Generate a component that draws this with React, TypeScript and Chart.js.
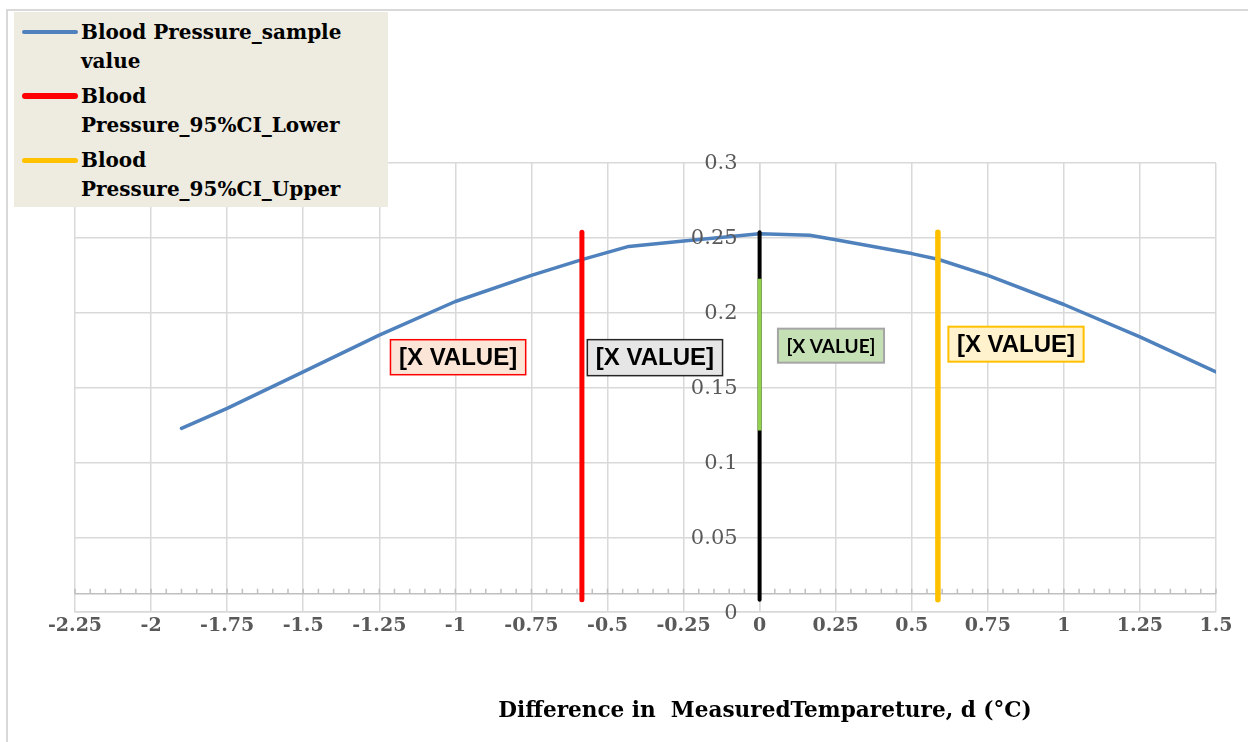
import React, { useEffect, useRef } from "react";
import { Chart, registerables } from "chart.js";

Chart.register(...registerables);

// ---------- data ----------
const SERIES_NAMES = [
  "Blood Pressure_sample value",
  "Blood Pressure_95%CI_Lower",
  "Blood Pressure_95%CI_Upper",
];

const SAMPLE_X = [-1.9, -1.75, -1.5, -1.25, -1.0, -0.75, -0.584, -0.43, -0.25, 0, 0.165, 0.25, 0.5, 0.586, 0.75, 1.0, 1.25, 1.5];
const SAMPLE_Y = [0.1228, 0.1361, 0.1605, 0.185, 0.2075, 0.225, 0.2355, 0.2443, 0.2479, 0.2527, 0.2517, 0.2488, 0.2395, 0.2357, 0.225, 0.2055, 0.1839, 0.1605];

const CI_LOWER_X = -0.584;
const CI_UPPER_X = 0.586;
const MEAN_X = 0;
const VLINE_Y = [0.0083, 0.2537];
const GREEN_Y = [0.1213, 0.2227];

const X_TICKS = [-2.25, -2, -1.75, -1.5, -1.25, -1, -0.75, -0.5, -0.25, 0, 0.25, 0.5, 0.75, 1, 1.25, 1.5];
const X_TICK_LABELS = ["-2.25", "-2", "-1.75", "-1.5", "-1.25", "-1", "-0.75", "-0.5", "-0.25", "0", "0.25", "0.5", "0.75", "1", "1.25", "1.5"];
const Y_TICKS = [0, 0.05, 0.1, 0.15, 0.2, 0.25, 0.3];
const Y_TICK_LABELS = ["0", "0.05", "0.1", "0.15", "0.2", "0.25", "0.3"];

const LABEL_TEXT = ["[X VALUE]", "[X VALUE]", "[X VALUE]", "[X VALUE]"];
const LABEL_X = [-0.991, -0.344, 0.2346, 0.8427];
const LABEL_Y = [0.1703, 0.17, 0.178, 0.179];

const X_TITLE = "Difference in  MeasuredTempareture, d (°C)";

// ---------- styles ----------
const BLUE = "#4f81bd";
const RED = "#ff0000";
const YELLOW = "#ffc000";
const BLACK = "#000000";
const GREEN = "#92d050";
const GRID = "#d9d9d9";

const LABEL_STYLES = [
  { fill: "#fbe5d6", stroke: "#ff0000", lw: 1.5, font: "bold 24px 'Liberation Sans', Arial, sans-serif", h: 35 },
  { fill: "#e7e6e6", stroke: "#262626", lw: 1.5, font: "bold 24px 'Liberation Sans', Arial, sans-serif", h: 36 },
  { fill: "#c5e0b4", stroke: "#a5a5a5", lw: 2, font: "bold 19px Lato, 'Liberation Sans', sans-serif", h: 34 },
  { fill: "#fff2cc", stroke: "#ffc000", lw: 2, font: "bold 24px 'Liberation Sans', Arial, sans-serif", h: 35 },
];

const MINOR_AXIS_VALUE = 0.0123;
const MINOR_STEP = 0.05;
const Y_LABEL_GAP = 22;

const minorAxisPlugin = {
  id: "minorAxis",
  beforeDatasetsDraw(chart: any) {
    const { ctx, scales } = chart;
    const x = scales.x;
    const y = scales.y;
    const py = y.getPixelForValue(MINOR_AXIS_VALUE);
    ctx.save();
    ctx.strokeStyle = "#bfbfbf";
    ctx.lineWidth = 1.5;
    ctx.beginPath();
    ctx.moveTo(x.left, py);
    ctx.lineTo(x.right, py);
    const n = Math.round((x.max - x.min) / MINOR_STEP);
    for (let i = 0; i <= n; i++) {
      const px = x.getPixelForValue(x.min + i * MINOR_STEP);
      ctx.moveTo(px, py);
      ctx.lineTo(px, py - 5);
    }
    ctx.stroke();
    ctx.restore();
  },
};

const yLabelPlugin = {
  id: "yLabels",
  afterDatasetsDraw(chart: any) {
    const { ctx, scales } = chart;
    const x = scales.x;
    const y = scales.y;
    const px = x.getPixelForValue(MEAN_X) - Y_LABEL_GAP;
    ctx.save();
    ctx.font = "21px 'DejaVu Serif', serif";
    ctx.fillStyle = "#595959";
    ctx.textAlign = "right";
    ctx.textBaseline = "middle";
    Y_TICKS.forEach((v, i) => {
      ctx.fillText(Y_TICK_LABELS[i], px, y.getPixelForValue(v) + 1);
    });
    ctx.restore();
  },
};

const labelPlugin = {
  id: "valueLabels",
  afterDatasetsDraw(chart: any) {
    const { ctx, scales } = chart;
    const x = scales.x;
    const y = scales.y;
    ctx.save();
    LABEL_TEXT.forEach((t, i) => {
      const st = LABEL_STYLES[i];
      const cx = x.getPixelForValue(LABEL_X[i]);
      const cy = y.getPixelForValue(LABEL_Y[i]);
      ctx.font = st.font;
      const w = ctx.measureText(t).width + 17;
      const h = st.h;
      ctx.fillStyle = st.fill;
      ctx.fillRect(cx - w / 2, cy - h / 2, w, h);
      ctx.strokeStyle = st.stroke;
      ctx.lineWidth = st.lw;
      ctx.strokeRect(cx - w / 2, cy - h / 2, w, h);
      ctx.fillStyle = "#000";
      ctx.textAlign = "center";
      ctx.textBaseline = "middle";
      ctx.fillText(t, cx, cy + 1);
    });
    ctx.restore();
  },
};

const LEGEND_COLORS = [BLUE, RED, YELLOW];
const LEGEND_WIDTHS = [4, 6, 5];

export default function App() {
  const ref = useRef<HTMLCanvasElement>(null);

  useEffect(() => {
    const vline = (xv: number, ys: number[]) => ys.map((yv) => ({ x: xv, y: yv }));
    const chart = new Chart(ref.current as HTMLCanvasElement, {
      type: "line",
      data: {
        datasets: [
          {
            label: SERIES_NAMES[0],
            data: SAMPLE_X.map((xv, i) => ({ x: xv, y: SAMPLE_Y[i] })),
            borderColor: BLUE,
            borderWidth: 3.5,
            pointRadius: 0,
            tension: 0,
            borderCapStyle: "round",
            borderJoinStyle: "round",
            order: 5,
          },
          {
            label: SERIES_NAMES[1],
            data: vline(CI_LOWER_X, VLINE_Y),
            borderColor: RED,
            borderWidth: 5,
            pointRadius: 0,
            borderCapStyle: "round",
            order: 4,
          },
          {
            label: "mean",
            data: vline(MEAN_X, VLINE_Y),
            borderColor: BLACK,
            borderWidth: 4,
            pointRadius: 0,
            borderCapStyle: "round",
            order: 3,
          },
          {
            label: SERIES_NAMES[2],
            data: vline(CI_UPPER_X, VLINE_Y),
            borderColor: YELLOW,
            borderWidth: 5.5,
            pointRadius: 0,
            borderCapStyle: "round",
            order: 2,
          },
          {
            label: "sample",
            data: vline(MEAN_X, GREEN_Y),
            borderColor: GREEN,
            borderWidth: 4,
            pointRadius: 0,
            order: 1,
          },
        ],
      },
      options: {
        responsive: false,
        animation: false,
        devicePixelRatio: 1,
        layout: { padding: { left: 75, right: 32, top: 163, bottom: 103 } },
        plugins: { legend: { display: false }, tooltip: { enabled: false } },
        scales: {
          x: {
            type: "linear",
            min: -2.25,
            max: 1.5,
            afterBuildTicks: (s: any) => {
              s.ticks = X_TICKS.map((v) => ({ value: v }));
            },
            ticks: {
              callback: (_v: any, i: number) => X_TICK_LABELS[i],
              font: { family: "'DejaVu Serif', serif", size: 19, weight: "bold" },
              color: "#595959",
              padding: 2,
              maxRotation: 0,
              autoSkip: false,
            },
            grid: { color: GRID, lineWidth: 1.5, drawTicks: false },
            border: { color: GRID, width: 1.5 },
          },
          y: {
            type: "linear",
            min: 0,
            max: 0.3,
            position: { x: 0 } as any,
            afterBuildTicks: (s: any) => {
              s.ticks = Y_TICKS.map((v) => ({ value: v }));
            },
            ticks: { display: false },
            grid: { color: GRID, lineWidth: 1.5, drawTicks: false },
            border: { color: GRID, width: 1.5 },
          },
        },
      } as any,
      plugins: [minorAxisPlugin, yLabelPlugin, labelPlugin],
    });
    return () => chart.destroy();
  }, []);

  return (
    <div style={{ position: "absolute", left: 0, top: 0, width: 1248, height: 742, background: "#fff", overflow: "hidden" }}>
      <div
        style={{
          position: "absolute",
          left: 6,
          top: 9,
          width: 1400,
          height: 900,
          borderLeft: "2px solid #d9d9d9",
          borderTop: "2px solid #d9d9d9",
        }}
      />
      <canvas ref={ref} width={1248} height={742} style={{ position: "absolute", left: 0, top: 0 }} />
      <div
        style={{
          position: "absolute",
          left: 14,
          top: 12,
          width: 374,
          height: 195,
          background: "#eeece1",
          boxSizing: "border-box",
          paddingTop: 6,
        }}
      >
        {SERIES_NAMES.map((name, i) => (
          <div key={i} style={{ position: "relative", height: 64 }}>
            <div
              style={{
                position: "absolute",
                left: 8,
                top: 14.25 - LEGEND_WIDTHS[i] / 2,
                width: 56,
                height: LEGEND_WIDTHS[i],
                borderRadius: 3,
                background: LEGEND_COLORS[i],
              }}
            />
            <div
              style={{
                position: "absolute",
                left: 67,
                top: 0,
                width: 300,
                fontFamily: "'DejaVu Serif', serif",
                fontWeight: "bold",
                fontSize: 20,
                lineHeight: "28.5px",
                color: "#000",
              }}
            >
              {name}
            </div>
          </div>
        ))}
      </div>
      <div
        style={{
          position: "absolute",
          left: 765,
          top: 697,
          transform: "translateX(-50%)",
          whiteSpace: "pre",
          fontFamily: "'DejaVu Serif', serif",
          fontWeight: "bold",
          fontSize: 21.6,
          lineHeight: "26px",
          color: "#000",
        }}
      >
        {X_TITLE}
      </div>
    </div>
  );
}
